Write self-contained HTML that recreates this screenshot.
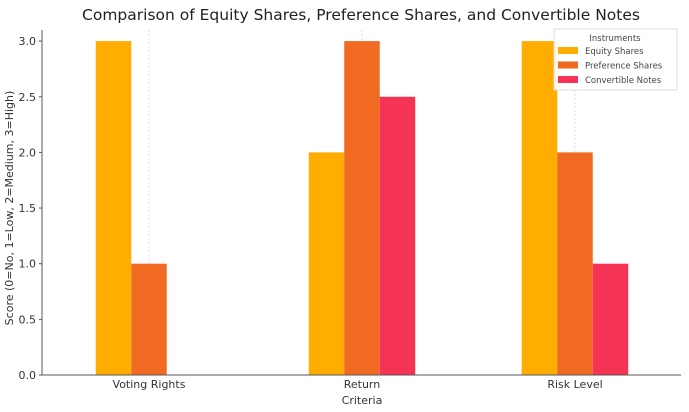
<!DOCTYPE html>
<html><head><meta charset="utf-8"><style>
body{margin:0;background:#fff;}
svg{display:block;font-family:"DejaVu Sans","Liberation Sans",sans-serif;}
</style></head><body>
<svg id="chart" width="689" height="412">
<text x="361" y="20" text-anchor="middle" font-size="15.5" fill="#222">Comparison of Equity Shares, Preference Shares, and Convertible Notes</text>
<g id="grid"></g><g id="bars"></g><g id="axes"></g>
<text x="362" y="404" text-anchor="middle" font-size="11" fill="#333">Criteria</text>
<text transform="translate(13,208) rotate(-90)" text-anchor="middle" font-size="11" fill="#333">Score (0=No, 1=Low, 2=Medium, 3=High)</text>
<g>
<rect x="554" y="29" width="123" height="61" fill="#fff" fill-opacity="0.9" stroke="#ddd"/>
<text x="615" y="41" text-anchor="middle" font-size="8.5" fill="#444">Instruments</text>
<g id="legend-items"></g>
</g>
</svg>
<script>
const categories=["Voting Rights","Return","Risk Level"];
const seriesNames=["Equity Shares","Preference Shares","Convertible Notes"];
const equity=[3,2,3];
const preference=[1,3,2];
const convertible=[0,2.5,1];
const yTicks=[0,0.5,1,1.5,2,2.5,3];
const colors=["#FFAD00","#F06A22","#F43355"];
const NS="http://www.w3.org/2000/svg";
const L=42,R=681,T=30,B=375;
const yScale=v=>B-v*111.3;
const xCenter=i=>149+i*213;
const bw=35.5;
function mk(tag,attrs,parent,text){const e=document.createElementNS(NS,tag);for(const k in attrs)e.setAttribute(k,attrs[k]);if(text!==undefined)e.textContent=text;parent.appendChild(e);return e;}
const grid=document.getElementById('grid'),bars=document.getElementById('bars'),axes=document.getElementById('axes');
categories.forEach((c,i)=>{
 const g=mk('line',{x1:xCenter(i),x2:xCenter(i),y1:T,y2:B,stroke:'#ddd','stroke-width':1,'stroke-dasharray':'2,2'},grid);
 
 
 const t=mk('text',{x:xCenter(i),y:388,'text-anchor':'middle','font-size':11,fill:'#333'},axes,c);
 
 
});
[equity,preference,convertible].forEach((s,j)=>{
 s.forEach((v,i)=>{
  const x=xCenter(i)+(j-1.5)*bw;
  const r=mk('rect',{x:x,y:yScale(v),width:bw,height:B-yScale(v),fill:colors[j]},bars);
  
  
 });
});
yTicks.forEach(v=>{
 const t=mk('text',{x:36,y:yScale(v)+4,'text-anchor':'end','font-size':11,fill:'#333'},axes,v.toFixed(1));
 
 
 const tk=mk('line',{x1:39,x2:42,y1:yScale(v),y2:yScale(v),stroke:'#555'},axes);
 
 
});
const ya=mk('line',{x1:L,x2:L,y1:T,y2:B,stroke:'#555'},axes);


const xa=mk('line',{x1:L,x2:R,y1:B,y2:B,stroke:'#555'},axes);


const li=document.getElementById('legend-items');
seriesNames.forEach((n,j)=>{
 const y=51+j*14.5;
 const r=mk('rect',{x:558,y:y-4,width:20,height:7,fill:colors[j]},li);
 
 
 const t=mk('text',{x:585,y:y+3,'font-size':8.5,fill:'#444'},li,n);
 
 
});
</script>
</body></html>
